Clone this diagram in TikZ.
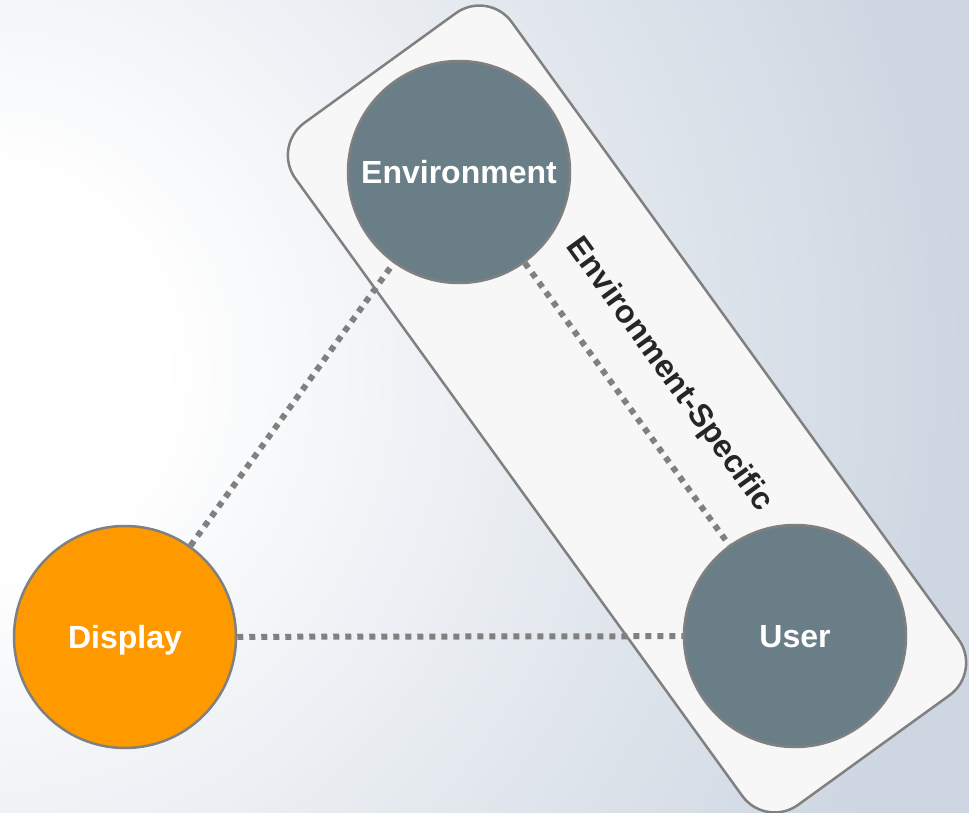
\documentclass[tikz,border=0pt]{standalone}
\usepackage{fontspec}
\setmainfont{Liberation Sans}
\definecolor{bgout}{HTML}{CDD6E1}
\definecolor{nodegrey}{HTML}{697E87}
\definecolor{disporange}{HTML}{FF9900}
\definecolor{edgegrey}{HTML}{808080}
\definecolor{panelfill}{HTML}{F7F7F7}
\definecolor{txtdark}{HTML}{262626}
\pgfdeclareradialshading{bgshade}{\pgfpoint{0bp}{0bp}}{color(0bp)=(white); color(2.4bp)=(white); color(12.5bp)=(bgout); color(50bp)=(bgout)}
\pgfdeclarelayer{back}
\pgfdeclarelayer{mid}
\pgfsetlayers{back,mid,main}
\begin{document}
\begin{tikzpicture}[x=1pt,y=-1pt,
  bubble/.style={circle, draw=edgegrey, line width=2.5pt, minimum size=222pt, inner sep=0pt, text=white, text height=22.9pt, text depth=0pt, font=\bfseries\fontsize{32}{38}\selectfont},
  link/.style={draw=edgegrey, line width=6pt, dash pattern=on 6pt off 6pt},
  panelbox/.style={draw=edgegrey, line width=2.5pt, fill=panelfill, rounded corners=40pt, minimum width=842pt, minimum height=267pt, inner sep=0pt},
  tag/.style={text=txtdark, font=\bfseries\fontsize{32}{38}\selectfont, inner sep=0pt}]
\useasboundingbox (0,0) rectangle (969,813);
\begin{pgfonlayer}{back}
  \begin{scope}
    \clip (0,0) rectangle (969,813);
    \shade[shading=bgshade] (-30,370) circle (2000);
  \end{scope}
  \node[panelbox, rotate=-54.1] (panel) at (627,409) {};
\end{pgfonlayer}
\node[bubble, fill=nodegrey] (env) at (459,172) {Environment};
\node[bubble, fill=nodegrey] (user) at (795,636) {User};
\node[bubble, fill=disporange] (disp) at (125,637) {Display};
\begin{pgfonlayer}{mid}
  \draw[link] (disp) -- (env);
  \draw[link] (env) -- (user);
  \draw[link] (disp) -- (user);
\end{pgfonlayer}
\node[tag, rotate=-54.1] (lbl) at (669,375) {Environment-Specific};
\end{tikzpicture}
\end{document}
